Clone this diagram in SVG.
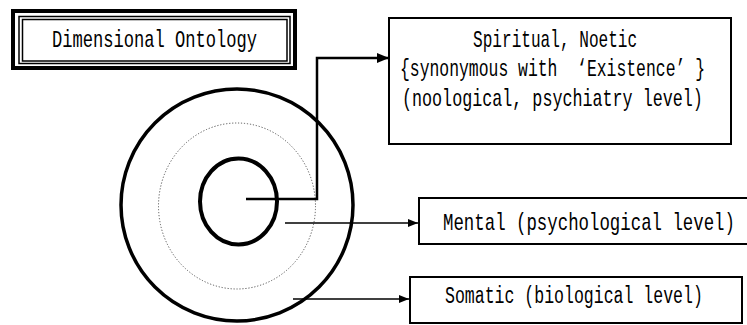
<svg xmlns="http://www.w3.org/2000/svg" width="747" height="325" viewBox="0 0 747 325">
<style>
  .t { font-family: "Liberation Mono", "DejaVu Sans Mono", monospace; font-size: 23px; fill: #000; }
  .box { fill: #fff; stroke: #000; stroke-width: 2; }
  .thin { fill: none; stroke: #000; stroke-width: 1.5; }
</style>
<defs>
  <marker id="ah" markerWidth="10" markerHeight="8" refX="10" refY="4" orient="auto" markerUnits="userSpaceOnUse">
    <path d="M0,0 L10,4 L0,8 Z" fill="#000"/>
  </marker>
  <marker id="ahb" markerWidth="12" markerHeight="10" refX="12" refY="5" orient="auto" markerUnits="userSpaceOnUse">
    <path d="M0,0 L12,5 L0,10 Z" fill="#000"/>
  </marker>
</defs>
<rect width="747" height="325" fill="#fff"/>

<g id="title">
  <rect x="13" y="11" width="282" height="57" fill="#fff" stroke="#000" stroke-width="4"/>
  <rect x="19" y="16.5" width="271" height="47" class="thin"/>
  <rect x="22.5" y="19.5" width="264.5" height="41.5" class="thin"/>
  <text class="t" transform="translate(52,47) scale(0.743,1)">Dimensional Ontology</text>
</g>

<g id="circles">
  <circle cx="237" cy="205" r="116" fill="none" stroke="#000" stroke-width="3.5"/>
  <ellipse cx="237" cy="206" rx="78.5" ry="83" fill="none" stroke="#555" stroke-width="1" stroke-dasharray="1.2 1.8"/>
  <ellipse cx="238.5" cy="201.5" rx="38.5" ry="43" fill="none" stroke="#000" stroke-width="4"/>
</g>

<g id="spiritual">
  <rect x="389" y="18" width="342" height="126" class="box"/>
  <text class="t" transform="translate(473,47) scale(0.70,1)">Spiritual, Noetic</text>
  <text class="t" transform="translate(400,76) scale(0.713,1)">{synonymous with&#160; ‘Existence’ }</text>
  <text class="t" transform="translate(402,106) scale(0.727,1)">(noological, psychiatry level)</text>
</g>

<g id="mental">
  <rect x="419" y="198" width="340" height="46" class="box" stroke-width="1.5"/>
  <text class="t" transform="translate(443,230) scale(0.756,1)">Mental (psychological level)</text>
</g>

<g id="somatic">
  <rect x="410" y="277" width="332" height="46" class="box" stroke-width="1.5"/>
  <text class="t" transform="translate(445,303) scale(0.719,1)">Somatic (biological level)</text>
</g>

<g id="connectors">
  <polyline points="246,199 317,199 317,58 389,58" fill="none" stroke="#000" stroke-width="2.5" marker-end="url(#ahb)"/>
  <line x1="285" y1="223" x2="418" y2="223" stroke="#000" stroke-width="1.5" marker-end="url(#ah)"/>
  <line x1="293" y1="299" x2="409" y2="299" stroke="#000" stroke-width="1.5" marker-end="url(#ah)"/>
</g>
</svg>
